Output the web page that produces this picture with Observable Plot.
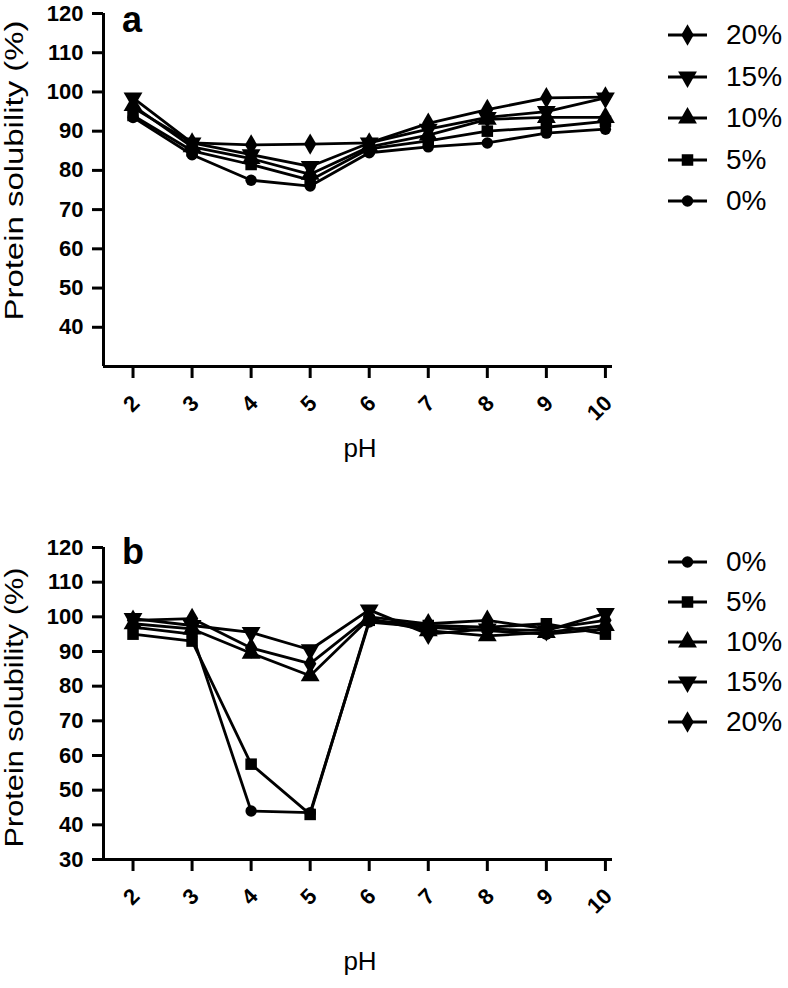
<!DOCTYPE html>
<html><head><meta charset="utf-8">
<script src="https://cdn.jsdelivr.net/npm/d3@7"></script>
<script src="https://cdn.jsdelivr.net/npm/@observablehq/plot@0.6"></script>
<style>
body{margin:0;background:#fff;font-family:"Liberation Sans",Arial,sans-serif;}
#wrap{position:relative;width:788px;height:988px;overflow:hidden;background:#fff}
.panel{position:absolute;left:0}
.tag{position:absolute;font-weight:bold;font-size:36px;line-height:1;color:#000}
.legrow{position:absolute;left:664px;height:30px;display:flex;align-items:center;white-space:nowrap;font-size:28px;color:#000}
.legrow svg{margin-right:18px}
</style></head><body><div id="wrap"></div>
<script>
// ---- data ----
const pH = [2, 3, 4, 5, 6, 7, 8, 9, 10];
const seriesNames = ["0%", "5%", "10%", "15%", "20%"];
const yTicksA = [40, 50, 60, 70, 80, 90, 100, 110, 120];
const yTicksB = [30, 40, 50, 60, 70, 80, 90, 100, 110, 120];
// panel a
const a0  = [93.5, 84, 77.5, 76, 84.5, 86, 87, 89.5, 90.5];
const a5  = [94, 85, 81.5, 77.5, 85.5, 87.5, 90, 91, 92.5];
const a10 = [96.5, 86, 83, 79, 86, 89, 93, 93.5, 93.5];
const a15 = [98.5, 87, 84, 81, 87, 90.5, 93.5, 95, 98.5];
const a20 = [96, 87, 86.5, 86.7, 87, 92, 95.5, 98.5, 98.7];
// panel b
const b0  = [97, 95, 44, 43.5, 98.5, 97, 96, 95, 96.5];
const b5  = [95, 93, 57.5, 43, 99, 97.5, 97, 98, 95];
const b10 = [98, 96.5, 89.5, 83, 99.5, 96, 94.5, 95.5, 97.5];
const b15 = [99.5, 97.5, 95.5, 90.5, 102, 95, 96.5, 96, 101];
const b20 = [99, 99.5, 91, 86.5, 100, 98, 99, 96.5, 99];
const legendOrderA = ["20%", "15%", "10%", "5%", "0%"];
const legendOrderB = ["0%", "5%", "10%", "15%", "20%"];

// ---- symbols ----
const triDown = {draw(ctx, size){const y = -Math.sqrt(size/(Math.sqrt(3)*3)); ctx.moveTo(0,-2*y); ctx.lineTo(-Math.sqrt(3)*y, y); ctx.lineTo(Math.sqrt(3)*y, y); ctx.closePath();}};
const symbolOf = {"0%": d3.symbolCircle, "5%": d3.symbolSquare, "10%": d3.symbolTriangle, "15%": triDown, "20%": d3.symbolDiamond};
const rOf = {"0%": 5.7, "5%": 6.5, "10%": 7, "15%": 7, "20%": 6.5};

function longData(arrs){
  const out = [];
  seriesNames.forEach((s, k) => pH.forEach((p, i) => out.push({pH: p, v: arrs[k][i], s})));
  return out;
}
const dataA = longData([a0, a5, a10, a15, a20]);
const dataB = longData([b0, b5, b10, b15, b20]);

const FONT = "'Liberation Sans', Arial, sans-serif";

function panel(data, yTicks, opts){
  const {height, marginTop, marginBottom, labelDy, phDy} = opts;
  const marks = [
    Plot.line(data, {x: "pH", y: "v", z: "s", stroke: "black", strokeWidth: 2.8}),
    ...seriesNames.map(s => Plot.dot(data.filter(d => d.s === s), {x: "pH", y: "v", symbol: symbolOf[s], r: rOf[s], fill: "black", stroke: "none"})),
    Plot.ruleX([1.5], {stroke: "black", strokeWidth: 3}),
    Plot.ruleY([30], {stroke: "black", strokeWidth: 3}),
    Plot.axisY({ticks: yTicks, tickSize: 11, tickPadding: 9, fontSize: 22, fontWeight: "bold", strokeWidth: 3, label: null}),
    Plot.axisX({ticks: pH, tickSize: 12, tickFormat: () => "", strokeWidth: 3, label: null}),
    Plot.text(pH, {x: d => d, frameAnchor: "bottom", text: d => String(d), rotate: -45, textAnchor: "end", lineAnchor: "middle", dx: 3, dy: 33, fontSize: 22, fontWeight: "bold"}),
    Plot.text(["pH"], {frameAnchor: "bottom", text: d => d, lineAnchor: "middle", dx: 2, dy: phDy, fontSize: 26}),
    Plot.text(["Protein solubility (%)"], {frameAnchor: "left", text: d => d, rotate: -90, textAnchor: "start", lineAnchor: "middle", dx: -89, dy: labelDy, fontSize: 26, className: "ylab"})
  ];
  return Plot.plot({
    width: 788, height, marginLeft: 103, marginRight: 176, marginTop, marginBottom,
    x: {domain: [1.5, 10.12]},
    y: {domain: [30, 120]},
    style: {fontFamily: FONT, color: "black", background: "white", overflow: "visible"},
    marks
  });
}

const wrap = document.getElementById("wrap");
// label start (bottom end) positions: panel a ~320, panel b ~ 847 (page coords)
const pa = panel(dataA, yTicksA, {height: 470, marginTop: 13, marginBottom: 104, labelDy: 320 - 189.5, phDy: 82});
pa.classList.add("panel"); pa.style.top = "0px";
wrap.appendChild(pa);
const pb = panel(dataB, yTicksB, {height: 518, marginTop: 77, marginBottom: 129, labelDy: 847 - 470 - 233, phDy: 102});
pb.classList.add("panel"); pb.style.top = "470px";
wrap.appendChild(pb);

// stretch y labels to the reference length
d3.select(pa).selectAll(".ylab text").attr("textLength", 300).attr("lengthAdjust", "spacingAndGlyphs");
d3.select(pb).selectAll(".ylab text").attr("textLength", 280).attr("lengthAdjust", "spacingAndGlyphs");

// panel tags
function tag(txt, left, top){const d = document.createElement("div"); d.className = "tag"; d.textContent = txt; d.style.left = left+"px"; d.style.top = top+"px"; wrap.appendChild(d);}
tag("a", 122, 2);
tag("b", 122, 534);

// legends
function legend(order, top0, step){
  order.forEach((s, i) => {
    const row = document.createElement("div");
    row.className = "legrow";
    row.style.top = (top0 + i*step - 15) + "px";
    const svg = d3.create("svg").attr("width", 44).attr("height", 30);
    svg.append("line").attr("x1", 4).attr("x2", 43).attr("y1", 15).attr("y2", 15).attr("stroke", "black").attr("stroke-width", 3);
    const r = rOf[s];
    svg.append("path").attr("transform", "translate(23.5,15)").attr("d", d3.symbol(symbolOf[s], Math.PI*r*r)()).attr("fill", "black");
    row.appendChild(svg.node());
    const t = document.createElement("span"); t.textContent = s; row.appendChild(t);
    wrap.appendChild(row);
  });
}
legend(legendOrderA, 35, 41.5);
legend(legendOrderB, 562, 40);
</script></body></html>
